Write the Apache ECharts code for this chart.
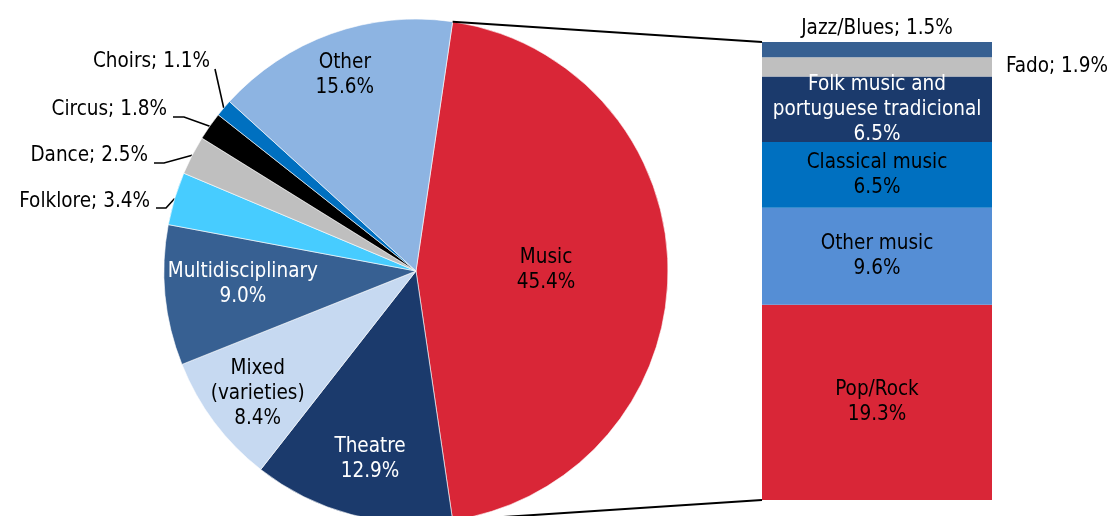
<!DOCTYPE html>
<html><head><meta charset="utf-8">
<script src="https://cdn.jsdelivr.net/npm/echarts@6/dist/echarts.min.js"></script>
<style>html,body{margin:0;padding:0;background:#fff}#c{width:1120px;height:516px}</style>
</head><body><div id="c"></div>
<script>
// ---- data ----
const pieNames = ['Music','Theatre','Mixed\n(varieties)','Multidisciplinary','Folklore','Dance','Circus','Choirs','Other'];
const pieValues = [45.4,12.9,8.4,9.0,3.4,2.5,1.8,1.1,15.6];
const barNames = ['Pop/Rock','Other music','Classical music','Folk music and\nportuguese tradicional','Fado','Jazz/Blues'];
const barValues = [19.3,9.6,6.5,6.5,1.9,1.5];

// ---- styles ----
const FONT = '"DejaVu Sans Condensed","DejaVu Sans",sans-serif';
const FS = 20.5;
const pieColors = ['#D92637','#1B3A6C','#C6D9F1','#376092','#47CCFF','#BFBFBF','#000000','#0070C0','#8DB4E2'];
const pieLabelColors = ['#000','#fff','#000','#fff','#000','#000','#000','#000','#000'];
const barColors = ['#D92637','#558ED5','#0070C0','#1B3A6C','#BFBFBF','#376092'];
const barLabelColors = ['#000','#000','#000','#fff','#000','#000'];
const CX = 416, CY = 271, R = 252;
const GRID = {left: 762, right: 128, top: 42, bottom: 16};
// inside label placement: [fraction of radius, angle deg]
const insidePos = {0:[0.516,0.4],1:[0.77,-103.7],2:[0.794,-142.3],3:[0.689,-175.7],8:[0.826,110]};
// outside labels: right edge x, center y, leader elbow points
const outsidePos = {
  4:{x:150,y:202,p2:[156,208],p1:[166,208]},
  5:{x:148,y:156,p2:[154,163],p1:[164,163]},
  6:{x:167,y:110,p2:[173,117],p1:[184,117]},
  7:{x:210,y:62,p2:[215,69],p1:[215,69]}
};

const pieSum = pieValues.reduce((a,b)=>a+b,0);
const barSum = barValues.reduce((a,b)=>a+b,0);
const startAngle = 360*pieValues[0]/pieSum/2;
const midAngles = [];
{ let a = startAngle; pieValues.forEach(v=>{ const s = 360*v/pieSum; midAngles.push(a - s/2); a -= s; }); }
const fmt = v => v.toFixed(1) + '%';

const chart = echarts.init(document.getElementById('c'), null, {renderer:'canvas'});

const pieData = pieNames.map((n,i)=>{
  const out = outsidePos[i] != null;
  return {
    name: n, value: pieValues[i],
    itemStyle: {color: pieColors[i]},
    label: {
      position: out ? 'outside' : 'inside',
      color: pieLabelColors[i],
      formatter: out ? (n + '; ' + fmt(pieValues[i])) : (n + '\n' + fmt(pieValues[i]))
    },
    labelLine: {show: out, lineStyle:{color:'#000', width:1.6}}
  };
});

const barSeries = barNames.map((n,i)=>{
  let label = {show:true, position:'inside', color: barLabelColors[i], fontFamily: FONT, fontSize: FS, lineHeight: 25,
    formatter: p => n + '\n' + fmt(barValues[i]), overflow:'none'};
  if (n === 'Jazz/Blues') label = {show:true, position:'top', distance:3, color:'#000', fontFamily:FONT, fontSize:FS,
    formatter: () => n + '; ' + fmt(barValues[i])};
  if (n === 'Fado') label = {show:true, position:'right', distance:14, color:'#000', fontFamily:FONT, fontSize:FS,
    formatter: () => n + '; ' + fmt(barValues[i])};
  return {
    type:'bar', name:n, stack:'music', barWidth:'100%', data:[barValues[i]],
    itemStyle:{color: barColors[i]}, label: label, silent:true
  };
});

chart.setOption({
  animation:false,
  textStyle:{fontFamily:FONT},
  grid: GRID,
  xAxis:{type:'category', data:['Music'], show:false, boundaryGap:true},
  yAxis:{type:'value', min:0, max:barSum, show:false},
  series:[{
    type:'pie', center:[CX,CY], radius:R, startAngle:startAngle, clockwise:true,
    avoidLabelOverlap:false, silent:true,
    itemStyle:{borderColor:'#fff', borderWidth:0.6},
    label:{fontFamily:FONT, fontSize:FS, lineHeight:25},
    data: pieData,
    labelLayout: function(p){
      const i = p.dataIndex;
      if (insidePos[i]) {
        const [f,a] = insidePos[i]; const r = a*Math.PI/180;
        return {x: CX + f*R*Math.cos(r), y: CY - f*R*Math.sin(r), align:'center', verticalAlign:'middle'};
      }
      const o = outsidePos[i];
      const r = midAngles[i]*Math.PI/180;
      const p0 = [CX + R*Math.cos(r), CY - R*Math.sin(r)];
      return {x:o.x, y:o.y, align:'right', verticalAlign:'middle', labelLinePoints:[o.p2, o.p1, p0]};
    }
  }].concat(barSeries)
});

// connector lines from the Music slice edges to the bar's corners
const a0 = startAngle*Math.PI/180;
const a1 = (startAngle - 360*pieValues[0]/pieSum)*Math.PI/180;
const yTop = chart.convertToPixel({yAxisIndex:0}, barSum);
const yBot = chart.convertToPixel({yAxisIndex:0}, 0);
chart.setOption({graphic:[
  {type:'line', shape:{x1: CX+R*Math.cos(a0), y1: CY-R*Math.sin(a0), x2: GRID.left, y2: yTop}, style:{stroke:'#000', lineWidth:2}, z:10},
  {type:'line', shape:{x1: CX+R*Math.cos(a1), y1: CY-R*Math.sin(a1), x2: GRID.left, y2: yBot}, style:{stroke:'#000', lineWidth:2}, z:10}
]});
</script>
</body></html>
